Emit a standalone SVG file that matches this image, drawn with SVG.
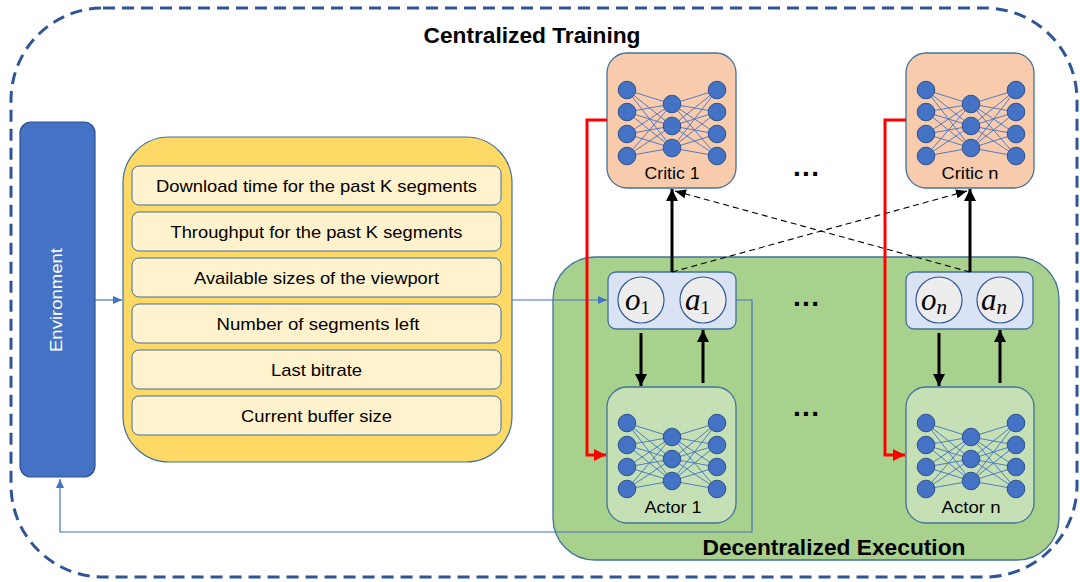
<svg xmlns="http://www.w3.org/2000/svg" xmlns:xlink="http://www.w3.org/1999/xlink" width="1080" height="582" viewBox="0 0 1080 582">
<style>
.t{font-family:"Liberation Sans",Arial,sans-serif;fill:#000}
.title{font-size:22px;font-weight:bold}
.feat{font-size:17px}
.featbox{fill:#FFF2CC;stroke:#41719C;stroke-width:1}
.nnlbl{font-size:16px}
.critic{fill:#F8CBAD;stroke:#41719C;stroke-width:1.3}
.actor{fill:#C5E0B4;stroke:#41719C;stroke-width:1.3}
.obox{fill:#DAE3F3;stroke:#41719C;stroke-width:1.3}
.oc{fill:#EDEDED;stroke:#2F5597;stroke-width:1.2}
.math{font-family:"Liberation Serif","DejaVu Serif",serif;font-style:italic;font-size:31px}
.sub{font-family:"Liberation Serif","DejaVu Serif",serif;font-size:19px}
.subi{font-family:"Liberation Serif","DejaVu Serif",serif;font-size:21px;font-style:italic}
.nl{stroke:#4472C4;stroke-width:0.9}
.nc{fill:#4472C4;stroke:#2F528F;stroke-width:1}
.blk{stroke:#000;stroke-width:3;fill:none}
.dsh{stroke:#000;stroke-width:1.1;stroke-dasharray:6 4;fill:none}
.red{stroke:#FF0000;stroke-width:3;fill:none}
.blu{stroke:#4472C4;stroke-width:1.2;fill:none}
.dots{font-size:28px;font-weight:bold}
</style>
<defs>
<marker id="mb" markerUnits="userSpaceOnUse" markerWidth="12" markerHeight="12" refX="12" refY="6" orient="auto"><path d="M0,0 L12,6 L0,12 z" fill="#000"/></marker>
<marker id="md" markerUnits="userSpaceOnUse" markerWidth="11" markerHeight="9" refX="11" refY="4.5" orient="auto"><path d="M0,0 L11,4.5 L0,9 z" fill="#000"/></marker>
<marker id="mr" markerUnits="userSpaceOnUse" markerWidth="12" markerHeight="12" refX="12" refY="6" orient="auto"><path d="M0,0 L12,6 L0,12 z" fill="#FF0000"/></marker>
<marker id="mbl" markerUnits="userSpaceOnUse" markerWidth="9" markerHeight="8" refX="9" refY="4" orient="auto"><path d="M0,0 L9,4 L0,8 z" fill="#4472C4"/></marker>
<g id="net">
<g class="nl">
<path d="M20,37 L65,51 M20,37 L65,73 M20,37 L65,95 M20,59 L65,51 M20,59 L65,73 M20,59 L65,95 M20,81 L65,51 M20,81 L65,73 M20,81 L65,95 M20,103 L65,51 M20,103 L65,73 M20,103 L65,95"/>
<path d="M110,37 L65,51 M110,37 L65,73 M110,37 L65,95 M110,59 L65,51 M110,59 L65,73 M110,59 L65,95 M110,81 L65,51 M110,81 L65,73 M110,81 L65,95 M110,103 L65,51 M110,103 L65,73 M110,103 L65,95"/>
</g>
<g class="nc">
<circle cx="20" cy="37" r="8.8"/><circle cx="20" cy="59" r="8.8"/><circle cx="20" cy="81" r="8.8"/><circle cx="20" cy="103" r="8.8"/>
<circle cx="65" cy="51" r="8.8"/><circle cx="65" cy="73" r="8.8"/><circle cx="65" cy="95" r="8.8"/>
<circle cx="110" cy="37" r="8.8"/><circle cx="110" cy="59" r="8.8"/><circle cx="110" cy="81" r="8.8"/><circle cx="110" cy="103" r="8.8"/>
</g>
</g>
</defs>

<g id="centralized-training">
<rect x="11" y="8" width="1066" height="569" rx="92" ry="92" fill="none" stroke="#2F5597" stroke-width="3" stroke-dasharray="12 7"/>
<text class="t title" x="532" y="43" text-anchor="middle" textLength="217" lengthAdjust="spacingAndGlyphs">Centralized Training</text>
</g>

<g id="decentralized-execution">
<rect x="553" y="257" width="506" height="303" rx="42" ry="42" fill="#A9D18E" stroke="#41719C" stroke-width="1.3"/>
<text class="t title" x="834" y="555" text-anchor="middle" textLength="263" lengthAdjust="spacingAndGlyphs">Decentralized Execution</text>
</g>

<g id="environment">
<rect x="20" y="122" width="75" height="355" rx="11" ry="11" fill="#4472C4" stroke="#2F528F" stroke-width="1.2"/>
<text class="t" x="0" y="0" transform="translate(62,300) rotate(-90)" text-anchor="middle" font-size="16.5" style="fill:#fff" textLength="104" lengthAdjust="spacingAndGlyphs">Environment</text>
</g>

<g id="state">
<rect x="123" y="137" width="389" height="325" rx="46" ry="46" fill="#FFD966" stroke="#41719C" stroke-width="1.2"/>
<rect class="featbox" x="132" y="166" width="369" height="39" rx="7"/>
<rect class="featbox" x="132" y="212" width="369" height="39" rx="7"/>
<rect class="featbox" x="132" y="258" width="369" height="39" rx="7"/>
<rect class="featbox" x="132" y="304" width="369" height="39" rx="7"/>
<rect class="featbox" x="132" y="350" width="369" height="39" rx="7"/>
<rect class="featbox" x="132" y="396" width="369" height="39" rx="7"/>
<text class="t feat" x="316.5" y="192" text-anchor="middle" textLength="321" lengthAdjust="spacingAndGlyphs">Download time for the past K segments</text>
<text class="t feat" x="316.5" y="238" text-anchor="middle" textLength="292" lengthAdjust="spacingAndGlyphs">Throughput for the past K segments</text>
<text class="t feat" x="316.5" y="284" text-anchor="middle" textLength="245" lengthAdjust="spacingAndGlyphs">Available sizes of the viewport</text>
<text class="t feat" x="318" y="330" text-anchor="middle" textLength="203" lengthAdjust="spacingAndGlyphs">Number of segments left</text>
<text class="t feat" x="316.5" y="376" text-anchor="middle" textLength="91" lengthAdjust="spacingAndGlyphs">Last bitrate</text>
<text class="t feat" x="316.5" y="422" text-anchor="middle" textLength="151" lengthAdjust="spacingAndGlyphs">Current buffer size</text>
</g>

<g id="critic-1">
<rect class="critic" x="607" y="53" width="129" height="135" rx="20"/>
<use xlink:href="#net" x="607" y="53"/>
<text class="t nnlbl" x="672" y="179" text-anchor="middle" textLength="55" lengthAdjust="spacingAndGlyphs">Critic 1</text>
</g>
<g id="critic-n">
<rect class="critic" x="906" y="53" width="128" height="135" rx="20"/>
<use xlink:href="#net" x="906" y="53"/>
<text class="t nnlbl" x="970" y="179" text-anchor="middle" textLength="57" lengthAdjust="spacingAndGlyphs">Critic n</text>
</g>

<g id="obs-act-1">
<rect class="obox" x="608" y="272" width="128" height="57" rx="8"/>
<circle class="oc" cx="641" cy="300" r="23"/>
<circle class="oc" cx="703" cy="300" r="23"/>
<text x="625" y="310"><tspan class="math">o</tspan><tspan class="sub" dy="4">1</tspan></text>
<text x="685" y="310"><tspan class="math">a</tspan><tspan class="sub" dy="4">1</tspan></text>
</g>
<g id="obs-act-n">
<rect class="obox" x="906" y="272" width="127" height="57" rx="8"/>
<circle class="oc" cx="939" cy="300" r="23"/>
<circle class="oc" cx="1000" cy="300" r="23"/>
<text x="921" y="310"><tspan class="math">o</tspan><tspan class="subi" dy="4">n</tspan></text>
<text x="981" y="310"><tspan class="math">a</tspan><tspan class="subi" dy="4">n</tspan></text>
</g>

<g id="actor-1">
<rect class="actor" x="607" y="387" width="129" height="136" rx="20"/>
<use xlink:href="#net" x="607" y="386"/>
<text class="t nnlbl" x="673" y="513" text-anchor="middle" textLength="57" lengthAdjust="spacingAndGlyphs">Actor 1</text>
</g>
<g id="actor-n">
<rect class="actor" x="906" y="387" width="128" height="136" rx="20"/>
<use xlink:href="#net" x="906" y="386"/>
<text class="t nnlbl" x="971" y="513" text-anchor="middle" textLength="59" lengthAdjust="spacingAndGlyphs">Actor n</text>
</g>

<g id="ellipses">
<text class="t dots" x="806" y="176" text-anchor="middle" textLength="26" lengthAdjust="spacing">...</text>
<text class="t dots" x="806" y="306" text-anchor="middle" textLength="26" lengthAdjust="spacing">...</text>
<text class="t dots" x="806" y="416" text-anchor="middle" textLength="26" lengthAdjust="spacing">...</text>
</g>

<g id="connectors">
<path class="blu" d="M95,300 H122" marker-end="url(#mbl)"/>
<path class="blu" d="M512,300 H607" marker-end="url(#mbl)"/>
<path class="blu" d="M736,300 H752 V532 H60 V479" marker-end="url(#mbl)"/>
<path class="red" d="M607,120 H587 V455 H606" marker-end="url(#mr)"/>
<path class="red" d="M906,120 H885 V455 H905" marker-end="url(#mr)"/>
<path class="blk" d="M672,272 V189" marker-end="url(#mb)"/>
<path class="blk" d="M970,272 V189" marker-end="url(#mb)"/>
<path class="blk" d="M641,333 V386" marker-end="url(#mb)"/>
<path class="blk" d="M703,383 V330" marker-end="url(#mb)"/>
<path class="blk" d="M939,333 V386" marker-end="url(#mb)"/>
<path class="blk" d="M1000,383 V330" marker-end="url(#mb)"/>
<path class="dsh" d="M672,272 L967,191" marker-end="url(#md)"/>
<path class="dsh" d="M970,272 L675,191" marker-end="url(#md)"/>
</g>
</svg>
